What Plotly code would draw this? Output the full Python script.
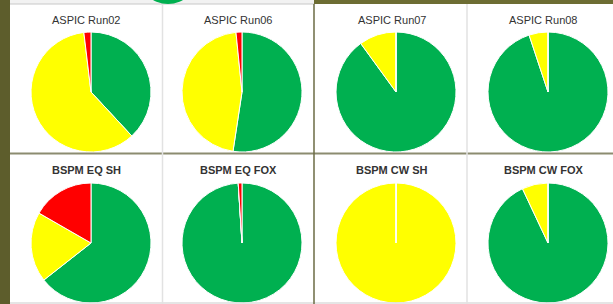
import plotly.graph_objects as go

W, H = 613, 304

titles = ["ASPIC Run02", "ASPIC Run06", "ASPIC Run07", "ASPIC Run08",
          "BSPM EQ SH", "BSPM EQ FOX", "BSPM CW SH", "BSPM CW FOX"]
categories = ["Green", "Yellow", "Red"]
green = [0.381, 0.524, 0.900, 0.949, 0.644, 0.990, 0.001, 0.930]
yellow = [0.600, 0.460, 0.100, 0.051, 0.189, 0.000, 0.999, 0.070]
red = [0.019, 0.016, 0.000, 0.000, 0.167, 0.010, 0.000, 0.000]
colors = ["#00B050", "#FFFF00", "#FF0000"]

# layout (pixel positions from top-left)
cx = [91, 242, 396, 548]
cy = [92, 243]
R = 60
title_x = [86, 238, 392, 543]
title_y = [19.5, 170]

fig = go.Figure()

def px(x):
    return x / W

def py(y):
    return 1 - y / H

for i, t in enumerate(titles):
    row, col = divmod(i, 4)
    x0, x1 = cx[col] - R, cx[col] + R
    y0, y1 = cy[row] - R, cy[row] + R
    fig.add_trace(go.Pie(
        labels=categories,
        values=[green[i], yellow[i], red[i]],
        marker=dict(colors=colors, line=dict(color="white", width=1)),
        sort=False, direction="clockwise", rotation=0,
        textinfo="none", showlegend=False, hole=0,
        domain=dict(x=[px(x0), px(x1)], y=[py(y1), py(y0)]),
    ))
    fig.add_annotation(
        x=px(title_x[col]), y=py(title_y[row]), xref="paper", yref="paper",
        text=t, showarrow=False, xanchor="center", yanchor="middle",
        font=dict(family="Liberation Sans, Arial, sans-serif", size=11,
                  color="#333333", weight="bold" if row == 1 else "normal"),
    )

shapes = []
# left olive strip
shapes.append(dict(type="rect", xref="paper", yref="paper", x0=0, x1=px(10), y0=0, y1=1,
                   fillcolor="#5d5d2c", line=dict(width=0), layer="below"))
# top-right olive strip
shapes.append(dict(type="rect", xref="paper", yref="paper", x0=px(314), x1=1, y0=py(4), y1=1,
                   fillcolor="#6d6d33", line=dict(width=0), layer="below"))
# top-left light strip
shapes.append(dict(type="rect", xref="paper", yref="paper", x0=px(10), x1=px(314), y0=py(4), y1=1,
                   fillcolor="#f2f2f2", line=dict(width=0), layer="below"))
shapes.append(dict(type="line", xref="paper", yref="paper", x0=px(10), x1=px(314), y0=py(4), y1=py(4),
                   line=dict(color="#c8c8c8", width=1)))
# partial pie peeking from above
shapes.append(dict(type="circle", xref="paper", yref="paper", x0=px(138), x1=px(198), y0=py(4), y1=py(-56),
                   fillcolor="#00B050", line=dict(width=0)))
# bottom light strip
shapes.append(dict(type="line", xref="paper", yref="paper", x0=px(10), x1=1, y0=py(303), y1=py(303),
                   line=dict(color="#dcdcdc", width=1.5)))
# horizontal divider
shapes.append(dict(type="line", xref="paper", yref="paper", x0=px(10), x1=1, y0=py(153.5), y1=py(153.5),
                   line=dict(color="#8c8c70", width=2)))
# vertical olive divider
shapes.append(dict(type="line", xref="paper", yref="paper", x0=px(314), x1=px(314), y0=0, y1=py(4),
                   line=dict(color="#6b6b45", width=1.5)))
# light gray dividers
for gx in (162.5, 467):
    shapes.append(dict(type="line", xref="paper", yref="paper", x0=px(gx), x1=px(gx), y0=0, y1=py(4),
                       line=dict(color="#e2e2e2", width=1.5)))

fig.update_layout(
    width=W, height=H,
    margin=dict(l=0, r=0, t=0, b=0),
    paper_bgcolor="white", plot_bgcolor="white",
    shapes=shapes,
)

fig.write_html("out.html", config={"displayModeBar": False},
               post_script="document.body.style.margin='0';document.body.style.overflow='hidden';")
